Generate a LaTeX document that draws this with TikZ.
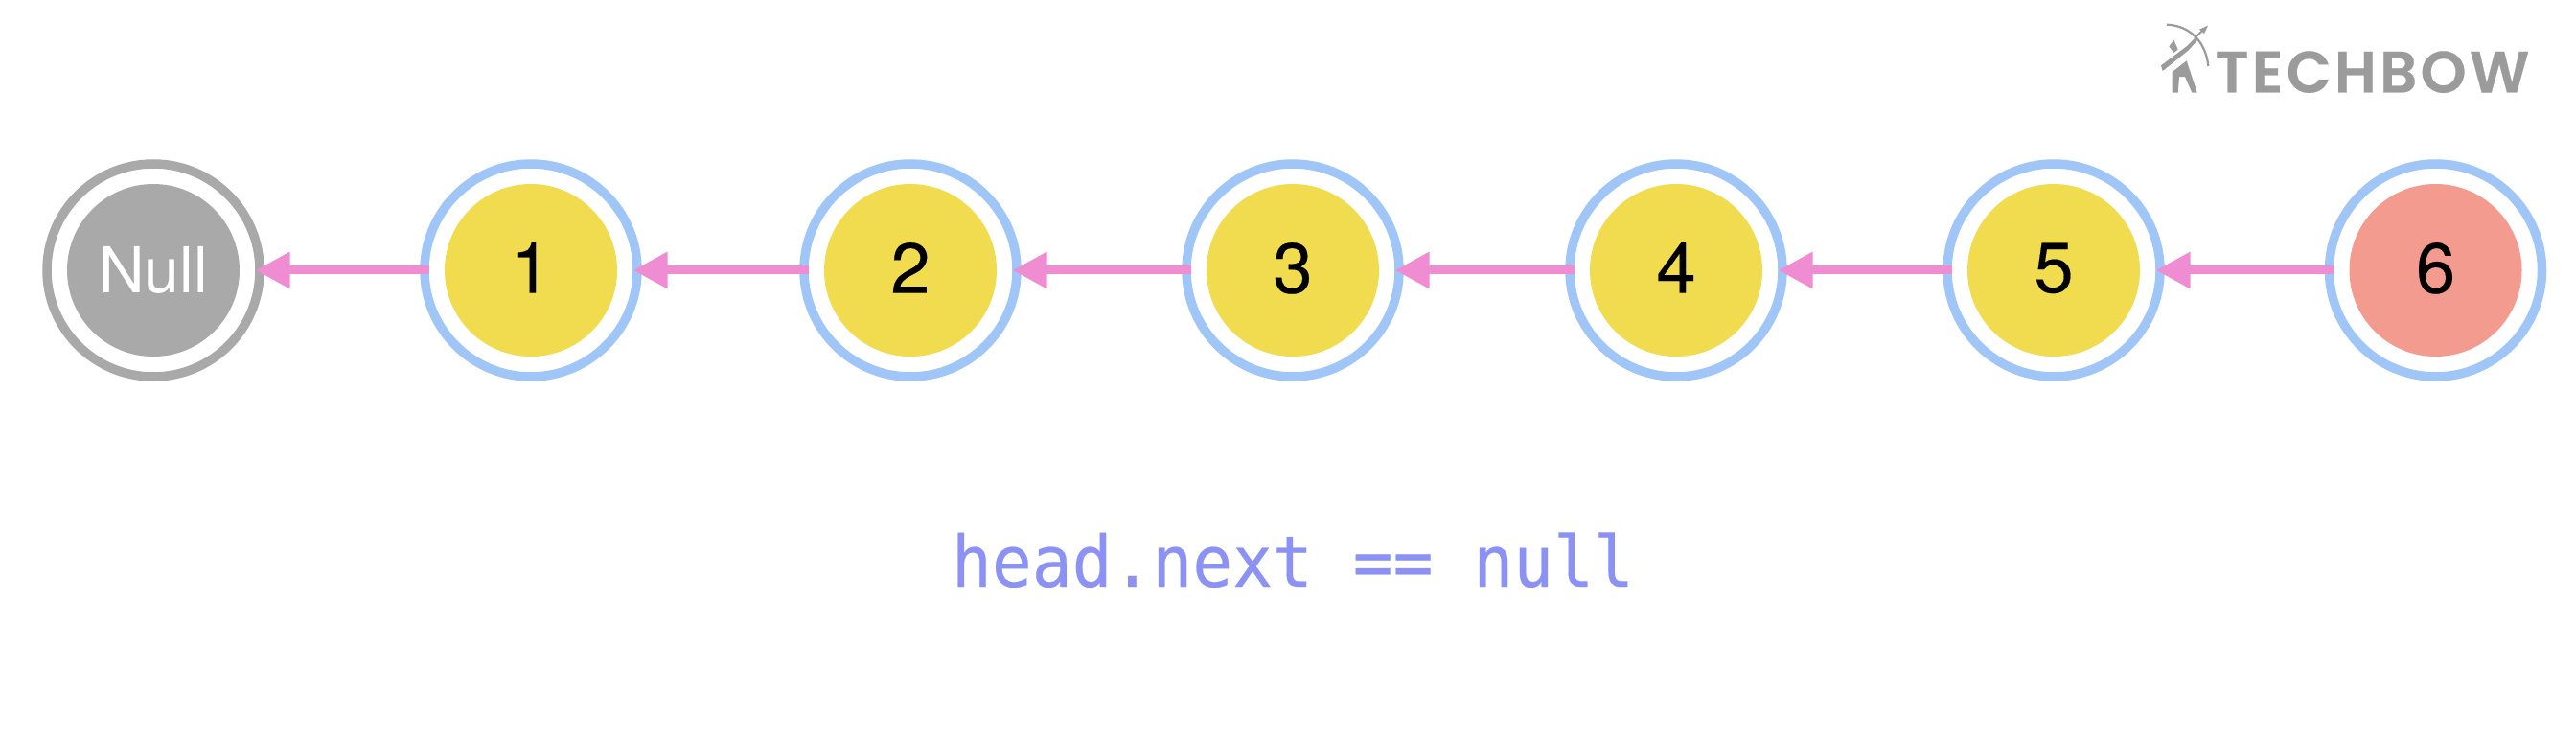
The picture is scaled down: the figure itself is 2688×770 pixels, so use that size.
\documentclass[tikz,border=0pt]{standalone}
\usepackage{fontspec}
\usetikzlibrary{arrows.meta}
\setmainfont{TeX Gyre Heros}
\newfontfamily\digitf{TeX Gyre Heros}[FakeBold=0.2]
\newfontfamily\monof{DejaVu Sans Mono}[FakeBold=0.3]
\newfontfamily\logof{Poppins}[BoldFont={Poppins SemiBold},BoldFeatures={FakeBold=0.4},LetterSpace=5.5]
\definecolor{ringblue}{HTML}{A0C6F8}
\definecolor{ringgray}{HTML}{A9A9A9}
\definecolor{fillyellow}{HTML}{F1DC50}
\definecolor{fillred}{HTML}{F39B8F}
\definecolor{linkpink}{HTML}{F08CD2}
\definecolor{codeblue}{HTML}{8C92F5}
\definecolor{logogray}{HTML}{9B9B9B}
\tikzset{
  x=0.5pt,y=-0.5pt,
  ring/.style={circle,draw=ringblue,line width=4.75pt,minimum size=111pt,inner sep=0pt,outer sep=0pt},
  core/.style={circle,minimum size=90pt,inner sep=0pt,outer sep=0pt,text=black},
  digitcore/.style={core,fill=fillyellow,font=\digitf\fontsize{37}{37}\selectfont,text depth=2.6pt},
  link/.style={draw=linkpink,line width=4.5pt,shorten >=53.25pt,shorten <=53.25pt,-{Triangle[length=18pt,width=18pt,fill=linkpink]}},
}
\begin{document}
\begin{tikzpicture}
\useasboundingbox (0,0) rectangle (2688,770);
\node[ring,draw=ringgray] (r0) at (160,282) {};
\node[ring] (r1) at (554,282) {};
\node[ring] (r2) at (950,282) {};
\node[ring] (r3) at (1349,282) {};
\node[ring] (r4) at (1749,282) {};
\node[ring] (r5) at (2143,282) {};
\node[ring] (r6) at (2541.5,282) {};
\node[core,fill=ringgray,text=white,font=\fontsize{33}{33}\selectfont] (c0) at (r0.center) {Null};
\node[digitcore] (c1) at (r1.center) {1};
\node[digitcore] (c2) at (r2.center) {2};
\node[digitcore] (c3) at (r3.center) {3};
\node[digitcore] (c4) at (r4.center) {4};
\node[digitcore] (c5) at (r5.center) {5};
\node[digitcore,fill=fillred] (c6) at (r6.center) {6};
\draw[link] (r1.center) -- (r0.center);
\draw[link] (r2.center) -- (r1.center);
\draw[link] (r3.center) -- (r2.center);
\draw[link] (r4.center) -- (r3.center);
\draw[link] (r5.center) -- (r4.center);
\draw[link] (r6.center) -- (r5.center);
\node[text=codeblue,font=\monof\fontsize{37}{37}\selectfont,anchor=base,xscale=0.94,transform shape] (code) at (1349,612) {head.next == null};
\node[text=logogray,font=\logof\bfseries\fontsize{30.5}{31}\selectfont,anchor=base west,inner sep=0pt] (logo) at (2311,96.5) {TECHBOW};
% archer mark
\begin{scope}[shift={(2200,0)},x=0.1667pt,y=-0.1667pt]
\fill[logogray] (165,205) -- (245,145) -- (272,118) -- (280,125) -- (250,158) -- (170,222) -- cycle;
\fill[logogray] (190,145) -- (205,125) -- (218,155) -- (205,165) -- cycle;
\fill[logogray] (200,290) -- (200,225) -- (245,190) -- (278,290) -- (262,290) -- (240,240) -- (222,240) -- (218,290) -- cycle;
\fill[logogray] (285,92) -- (312,80) -- (300,105) -- cycle;
\draw[logogray,line width=1pt] (270,120) -- (295,95);
\draw[logogray,line width=1.1pt] (183,77) .. controls (255,80) and (305,130) .. (313,207);
\end{scope}
\end{tikzpicture}
\end{document}
